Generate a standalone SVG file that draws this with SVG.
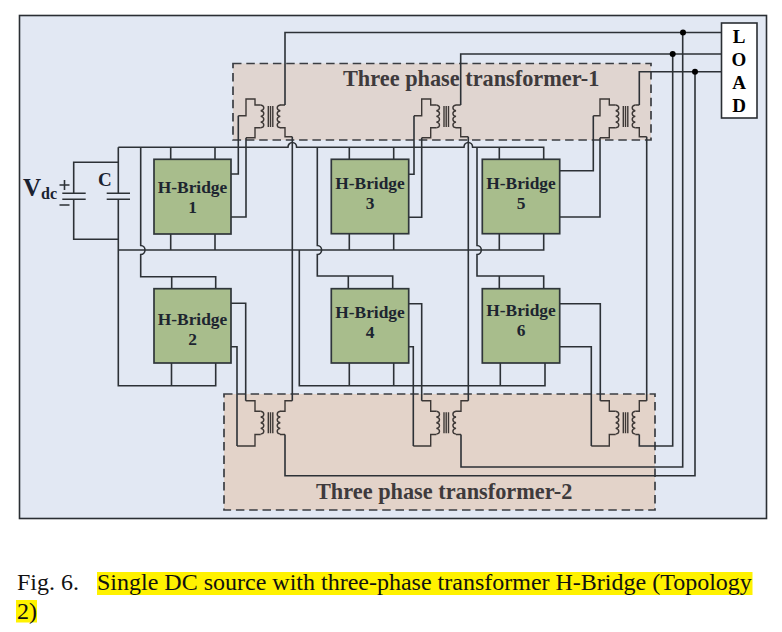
<svg xmlns="http://www.w3.org/2000/svg" width="782" height="632" viewBox="0 0 782 632">
<style>
text{font-family:"Liberation Serif","Times New Roman",serif}
.w{fill:none;stroke:#2c3136;stroke-width:1.6}
.x{fill:none;stroke:#3d3836;stroke-width:1.4}
.d{stroke:#3a3d42;stroke-width:1.7;stroke-dasharray:8.5 4.8}
.hb{fill:#a8bd8c;stroke:#2f363a;stroke-width:1.7}
.hl{font-weight:bold;font-size:17.4px;fill:#1d2530;text-anchor:middle}
.tt{font-weight:bold;font-size:22.3px;fill:#3e3a3c}
.ld{font-weight:bold;font-size:19px;fill:#000;text-anchor:middle}
.cap{font-size:24px;fill:#111}
.s{font-weight:bold;fill:#1a2230}
</style>
<defs>
<g id="core" class="x">
<path d="M-2.300 0a3.800 2.900 0 0 1 0 5.700a3.800 2.900 0 0 1 0 5.700a3.800 2.900 0 0 1 0 5.700a3.800 2.900 0 0 1 0 5.700"/>
<path d="M17.300 0a3.800 2.900 0 0 0 0 5.700a3.800 2.900 0 0 0 0 5.700a3.800 2.900 0 0 0 0 5.700a3.800 2.900 0 0 0 0 5.700"/>
<path d="M5.300 1V22M7.500 1V22M9.800 1V22"/>
</g>
</defs>
<rect x="19.500" y="15.500" width="747" height="503" fill="#e2e8f3" stroke="#2a2e33" stroke-width="1.6"/>

<g id="transformer-1">
<rect class="d" x="233" y="63.500" width="418" height="76.500" fill="#e0d5d0"/>
<text class="tt" x="343" y="86">Three phase transformer-1</text>
<use href="#core" x="263" y="105"/><use href="#core" x="438.700" y="105"/><use href="#core" x="618" y="105"/>
<path class="x" d="M238.300 115.700H246V99H255V105H260.700M260.700 127.800H255V137.700H246M285 105H280M280 127.800H285V136.700H292.300"/>
<path class="x" d="M414 115.700H421.700V99H430.700V105H436.400M436.400 127.800H430.700V137.700H421.700M460.700 105H456M456 127.800H460.700V136.700H468.300"/>
<path class="x" d="M593.300 115.700H600V99H609.300V105H615.700M615.700 127.800H609.300V137.700H600M639.300 105H635.300M635.300 127.800H639.300V136.700H646.700"/>
</g>

<g id="transformer-2">
<rect class="d" x="224" y="394" width="431" height="116" fill="#e3d3c9"/>
<text class="tt" x="316" y="499">Three phase transformer-2</text>
<use href="#core" x="263" y="411.300"/><use href="#core" x="438.700" y="411.300"/><use href="#core" x="618" y="411.300"/>
<path class="x" d="M245.700 400.700H255V411.300H260.700M260.700 434.500H255V446H237M292.300 400.700H285V411.300H280M280 434.500H285"/>
<path class="x" d="M421.700 400.700H430.700V411.300H436.400M436.400 434.500H430.700V446H413.300M468.300 400.700H461V411.300H456M456 434.500H461"/>
<path class="x" d="M600.300 400.700H609.300V411.300H615.700M615.700 434.500H609.300V446H591.300M646.700 400.700H639.300V411.300H635.300M635.300 434.500H639.300"/>
</g>

<g id="connectors">
<path class="w" d="M118.300 147.300H288a4.300 4.800 0 0 1 8.600 0H464a4.300 4.800 0 0 1 8.600 0H543.700V159.300M170.700 147.300V159.300M215 147.300V159.300M349.300 147.300V159.300M393.700 147.300V159.300M499.300 147.300V159.300"/>
<path class="w" d="M118.300 147.300V193.300M118.300 199.300V385.700H215.700V363M171.500 363V385.700"/>
<path class="w" d="M118.300 250H543.700V233.700M170.700 234V250M215 234V250M349.300 233.700V250M393.700 233.700V250M499.300 233.700V250"/>
<path class="w" d="M73.700 193.300V162.300H118.300M73.700 199.300V239.300H118.300"/>
<path class="w" d="M140.700 147.300V245.500a4.300 4.500 0 0 1 0 9V276.700H215.700V288.700M171.700 276.700V288.700"/>
<path class="w" d="M317.300 147.300V245.500a4.300 4.500 0 0 1 0 9V276H392.700V288.700M348.300 276V288.700"/>
<path class="w" d="M477 147.300V245.500a4.300 4.500 0 0 1 0 9V276H543.700V288.700M499.300 276V288.700"/>
<path class="w" d="M299.300 250V385.700H545V363M349.300 363V385.700M393.700 363V385.700M500.300 363V385.700"/>
<path class="w" d="M231 174H238.300V115.700M231 217H246V137.700"/>
<path class="w" d="M408.700 174.300H414V115.700M408.700 217.300H421.700V137.700"/>
<path class="w" d="M559.700 170.700H593.300V115.700M559.700 217H600V137.700"/>
<path class="w" d="M231 303.300H245.700V400.700M231 346.700H237V446"/>
<path class="w" d="M408.700 303.700H421.700V400.700M408.700 346.700H413.300V446"/>
<path class="w" d="M559.700 303.700H600.300V400.700M559.700 346.700H591.300V446"/>
<path class="w" d="M292.300 136.700V400.700M468.300 136.700V400.700M646.700 136.700V400.700"/>
<path class="w" d="M285 105V32.500H721.500M460.700 105V54H721.500M639.300 105V71.700H721.500"/>
<path class="w" d="M639.300 434.500V446H672.700V54M461 434.500V467H682.700V32.500M285 434.500V475.700H695V71.700"/>
<circle cx="683" cy="32.500" r="3" fill="#000"/><circle cx="672.700" cy="54" r="3" fill="#000"/><circle cx="695" cy="71.700" r="3" fill="#000"/>
</g>

<g id="source">
<path class="w" d="M62.300 193.300H85.700M62.300 199.300H85.700"/>
<text class="s" x="23" y="196" font-size="25">V</text>
<text class="s" x="41" y="199" font-size="16">dc</text>
<path class="w" d="M59.500 185H69.500M64.500 180V190M59.500 205H69.500"/>
</g>
<g id="capacitor">
<path class="w" d="M106.700 193.300H130M106.700 199.300H130"/>
<text class="s" x="98" y="186" font-size="19">C</text>
</g>

<g id="hbridge-1"><rect class="hb" x="154" y="159.300" width="77" height="74.700"/><text class="hl" x="192.500" y="193">H-Bridge</text><text class="hl" x="192.500" y="213">1</text></g>
<g id="hbridge-2"><rect class="hb" x="154" y="288.700" width="77" height="74.300"/><text class="hl" x="192.500" y="325">H-Bridge</text><text class="hl" x="192.500" y="345">2</text></g>
<g id="hbridge-3"><rect class="hb" x="331.300" y="159.300" width="77.400" height="74.400"/><text class="hl" x="370" y="189">H-Bridge</text><text class="hl" x="370" y="209">3</text></g>
<g id="hbridge-4"><rect class="hb" x="331.300" y="288.700" width="77.400" height="74.300"/><text class="hl" x="370" y="318">H-Bridge</text><text class="hl" x="370" y="338">4</text></g>
<g id="hbridge-5"><rect class="hb" x="482.300" y="159.300" width="77.400" height="74.400"/><text class="hl" x="521" y="189">H-Bridge</text><text class="hl" x="521" y="209">5</text></g>
<g id="hbridge-6"><rect class="hb" x="482.300" y="288.700" width="77.400" height="74.300"/><text class="hl" x="521" y="316">H-Bridge</text><text class="hl" x="521" y="336">6</text></g>

<g id="load">
<rect x="721.500" y="23" width="35.500" height="95" fill="#fff" stroke="#2a2e33" stroke-width="1.6"/>
<text class="ld" x="739" y="43">L</text><text class="ld" x="739" y="66">O</text><text class="ld" x="739" y="89">A</text><text class="ld" x="739" y="112">D</text>
</g>

<g id="caption">
<rect x="97" y="572" width="655.500" height="23" fill="#fff200"/>
<rect x="16" y="600" width="21" height="22.500" fill="#fff200"/>
<text class="cap" x="17" y="590">Fig. 6.</text>
<text class="cap" x="97" y="590">Single DC source with three-phase transformer H-Bridge (Topology</text>
<text class="cap" x="17" y="619">2)</text>
</g>
</svg>
